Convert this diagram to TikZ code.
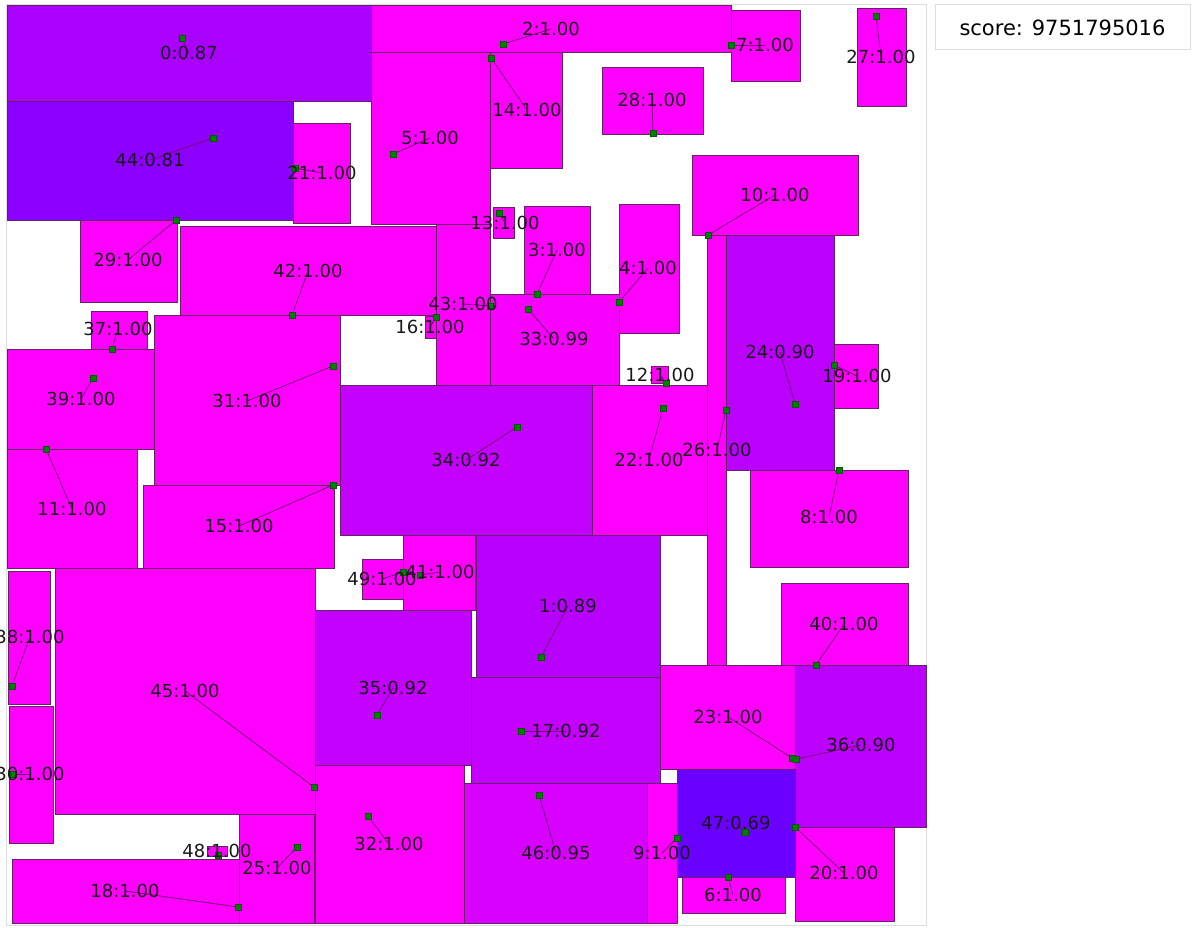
\documentclass[tikz,border=0pt]{standalone}
\usepackage{fontspec}
\setmainfont{DejaVu Sans}
\pgfdeclarelayer{bg}\pgfdeclarelayer{fg}\pgfsetlayers{bg,main,fg}
\definecolor{s100}{HTML}{FF00FF}
\definecolor{s099}{HTML}{F800FF}
\definecolor{s095}{HTML}{D800FF}
\definecolor{s092}{HTML}{C400FF}
\definecolor{s090}{HTML}{BC00FF}
\definecolor{s089}{HTML}{B800FF}
\definecolor{s087}{HTML}{AA00FF}
\definecolor{s081}{HTML}{8C00FF}
\definecolor{s069}{HTML}{6A00FF}
\definecolor{edge}{HTML}{662266}
\definecolor{wire}{HTML}{770077}
\definecolor{pin}{HTML}{008000}
\definecolor{frame}{HTML}{DDDDDD}
\tikzset{
  rbox/.style={draw=edge,line width=0.9pt},
  lab/.style={inner sep=0pt,font=\fontsize{18}{20}\selectfont,text=black!90},
  conn/.style={draw=wire,line width=0.8pt},
  dotsq/.style={fill=pin,draw=pin!70!black,line width=0.4pt,minimum size=5.5pt,inner sep=0pt,rectangle},
  scorebox/.style={draw=frame,line width=1pt,minimum width=255pt,minimum height=45pt,font=\fontsize{21}{24}\selectfont,inner sep=0pt}
}
\newcommand\Rect[6]{\begin{pgfonlayer}{bg}\draw[rbox,fill=#6] (#2,#3) rectangle (#4,#5);\end{pgfonlayer}}
\newcommand\Pin[6]{%
  \coordinate (d#1) at (#3,#4);
  \begin{pgfonlayer}{fg}\node[lab] (l#1) at (#5,#6) {#1:#2};\end{pgfonlayer}
  \draw[conn] (d#1) -- (l#1.center);
  \node[dotsq] (p#1) at (d#1) {};
}
\begin{document}
\begin{tikzpicture}[x=1pt,y=-1pt]
\useasboundingbox (0,0) rectangle (1200,928);
\begin{pgfonlayer}{bg}
\fill[white] (0,0) rectangle (1200,928);
\draw[frame,line width=1pt] (6,5) rectangle (926,925);
\end{pgfonlayer}
\node[scorebox] (score) at (1062.5,27.5) {score: 9751795016};
% rectangles
\Rect{0}{7}{5}{371}{101}{s087}
\Rect{1}{476}{535}{660}{677}{s089}
\Rect{2}{371}{5}{731}{52}{s100}
\Rect{3}{524}{206}{590}{294}{s100}
\Rect{4}{619}{204}{679}{333}{s100}
\Rect{5}{371}{52}{490}{224}{s100}
\Rect{6}{682}{877}{785}{913}{s100}
\Rect{7}{731}{10}{800}{81}{s100}
\Rect{8}{750}{470}{908}{567}{s100}
\Rect{9}{647}{783}{677}{923}{s100}
\Rect{10}{692}{155}{858}{235}{s100}
\Rect{11}{7}{449}{137}{568}{s100}
\Rect{12}{651}{366}{668}{383}{s100}
\Rect{13}{493}{207}{514}{238}{s100}
\Rect{14}{490}{52}{562}{168}{s100}
\Rect{15}{143}{485}{334}{568}{s100}
\Rect{16}{425}{316}{436}{338}{s100}
\Rect{17}{471}{677}{660}{783}{s092}
\Rect{18}{12}{859}{239}{923}{s100}
\Rect{19}{834}{344}{878}{408}{s100}
\Rect{20}{795}{827}{894}{921}{s100}
\Rect{21}{293}{123}{350}{223}{s100}
\Rect{22}{592}{385}{707}{535}{s100}
\Rect{23}{660}{665}{795}{769}{s100}
\Rect{24}{726}{235}{834}{470}{s090}
\Rect{25}{239}{814}{314}{923}{s100}
\Rect{26}{707}{235}{726}{665}{s100}
\Rect{27}{857}{8}{906}{106}{s100}
\Rect{28}{602}{67}{703}{134}{s100}
\Rect{29}{80}{220}{177}{302}{s100}
\Rect{30}{9}{706}{53}{843}{s100}
\Rect{31}{154}{315}{340}{485}{s100}
\Rect{32}{315}{765}{464}{923}{s100}
\Rect{33}{490}{294}{619}{385}{s099}
\Rect{34}{340}{385}{592}{535}{s092}
\Rect{35}{315}{610}{471}{765}{s092}
\Rect{36}{795}{665}{926}{827}{s090}
\Rect{37}{91}{311}{147}{349}{s100}
\Rect{38}{8}{571}{50}{704}{s100}
\Rect{39}{7}{349}{154}{449}{s100}
\Rect{40}{781}{583}{908}{665}{s100}
\Rect{41}{403}{535}{475}{610}{s100}
\Rect{42}{180}{226}{436}{315}{s100}
\Rect{43}{436}{224}{490}{385}{s100}
\Rect{44}{7}{101}{293}{220}{s081}
\Rect{45}{55}{568}{315}{814}{s100}
\Rect{46}{464}{783}{647}{923}{s095}
\Rect{47}{677}{769}{795}{877}{s069}
\Rect{48}{207}{846}{227}{856}{s100}
\Rect{49}{362}{559}{403}{599}{s100}
% pins and labels
\Pin{0}{0.87}{182}{38}{189}{53}
\Pin{1}{0.89}{541}{657}{568}{606}
\Pin{2}{1.00}{503}{44}{551}{29}
\Pin{3}{1.00}{537}{294}{557}{250}
\Pin{4}{1.00}{619}{302}{648}{268}
\Pin{5}{1.00}{393}{154}{430}{138}
\Pin{6}{1.00}{728}{877}{733}{895}
\Pin{7}{1.00}{731}{45}{765}{45}
\Pin{8}{1.00}{839}{470}{829}{517}
\Pin{9}{1.00}{677}{838}{662}{853}
\Pin{10}{1.00}{708}{235}{775}{195}
\Pin{11}{1.00}{46}{449}{72}{509}
\Pin{12}{1.00}{666}{383}{660}{375}
\Pin{13}{1.00}{499}{213}{505}{223}
\Pin{14}{1.00}{491}{58}{527}{110}
\Pin{15}{1.00}{333}{485}{239}{526}
\Pin{16}{1.00}{436}{317}{430}{327}
\Pin{17}{0.92}{521}{731}{566}{731}
\Pin{18}{1.00}{238}{907}{125}{891}
\Pin{19}{1.00}{834}{365}{857}{376}
\Pin{20}{1.00}{795}{827}{844}{873}
\Pin{21}{1.00}{295}{168}{322}{173}
\Pin{22}{1.00}{663}{408}{649}{460}
\Pin{23}{1.00}{792}{758}{728}{717}
\Pin{24}{0.90}{795}{404}{780}{352}
\Pin{25}{1.00}{297}{847}{277}{868}
\Pin{26}{1.00}{726}{410}{717}{450}
\Pin{27}{1.00}{876}{16}{881}{57}
\Pin{28}{1.00}{653}{133}{652}{100}
\Pin{29}{1.00}{176}{220}{128}{260}
\Pin{30}{1.00}{13}{774}{30}{774}
\Pin{31}{1.00}{333}{366}{247}{401}
\Pin{32}{1.00}{368}{816}{389}{844}
\Pin{33}{0.99}{528}{309}{554}{339}
\Pin{34}{0.92}{517}{427}{466}{460}
\Pin{35}{0.92}{377}{715}{393}{688}
\Pin{36}{0.90}{796}{759}{861}{745}
\Pin{37}{1.00}{112}{349}{118}{329}
\Pin{38}{1.00}{12}{686}{30}{637}
\Pin{39}{1.00}{93}{378}{81}{399}
\Pin{40}{1.00}{816}{665}{844}{624}
\Pin{41}{1.00}{420}{575}{440}{572}
\Pin{42}{1.00}{292}{315}{308}{271}
\Pin{43}{1.00}{490}{306}{463}{304}
\Pin{44}{0.81}{213}{138}{150}{160}
\Pin{45}{1.00}{314}{787}{185}{691}
\Pin{46}{0.95}{539}{795}{556}{853}
\Pin{47}{0.69}{745}{832}{736}{823}
\Pin{48}{1.00}{218}{855}{217}{851}
\Pin{49}{1.00}{403}{572}{382}{579}
\end{tikzpicture}
\end{document}
